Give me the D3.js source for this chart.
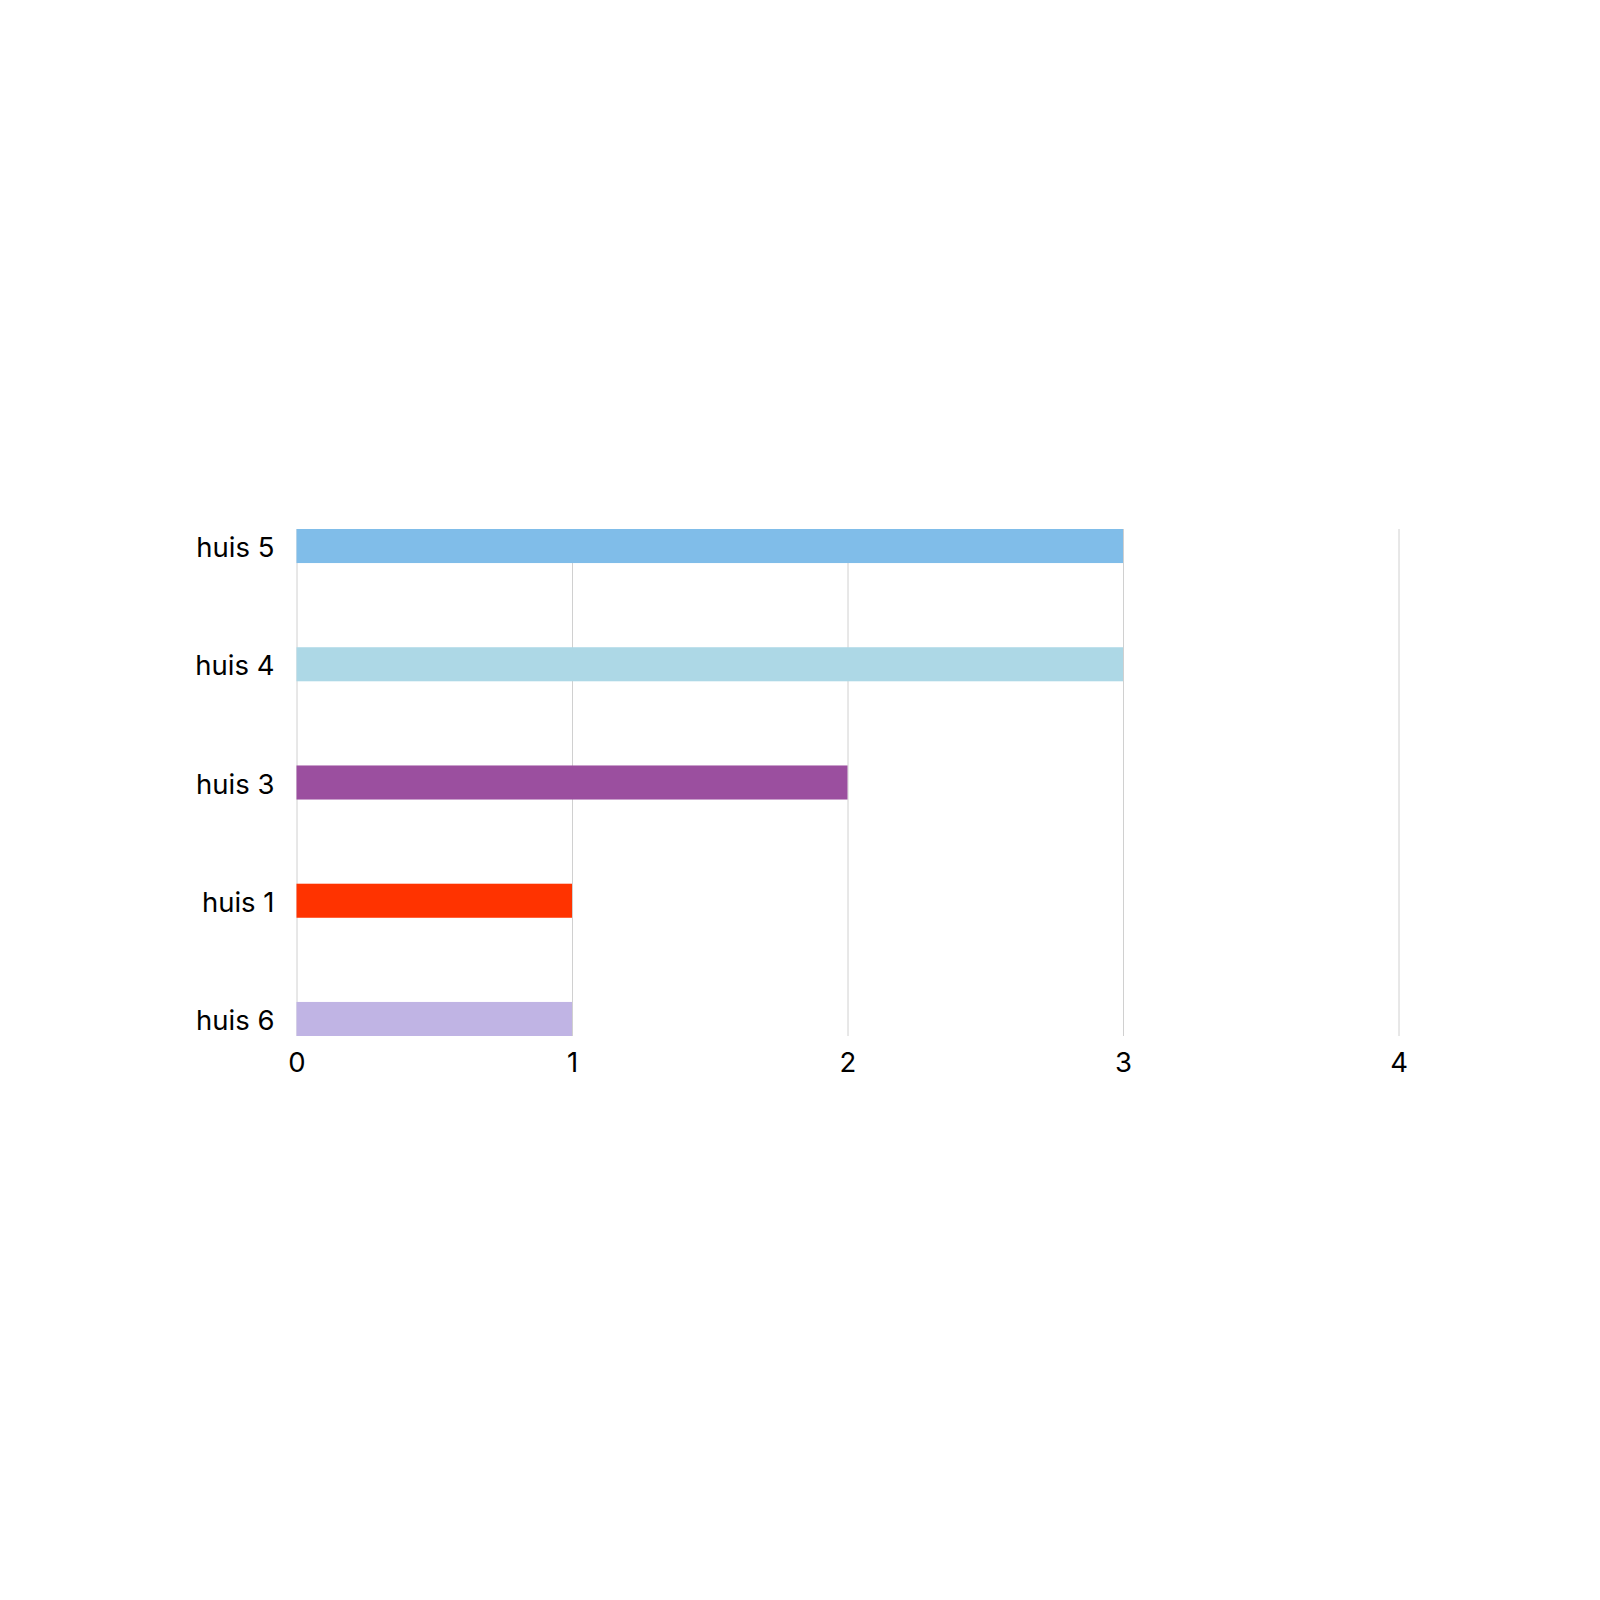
<!DOCTYPE html>
<html>
<head>
<meta charset="utf-8">
<script src="https://cdn.jsdelivr.net/npm/d3@7"></script>
<style>
  body { margin: 0; background: #fff; }
  text { font-family: Inter, "Noto Sans", sans-serif; }
</style>
</head>
<body>
<div class="chart"></div>
<script>
const houses = ['huis 5', 'huis 4', 'huis 3', 'huis 1', 'huis 6'];
const counts = [3, 3, 2, 1, 1];
const colors = ['#80bde9', '#add8e6', '#9b4f9f', '#ff3300', '#c0b4e4'];
const xTicks = [0, 1, 2, 3, 4];

const width = 1600;
const height = 1600;
const margin = {top: 529, left: 296.5, right: 201.5, bottom: 564};

const svg = d3.select('.chart')
    .append('svg')
    .attr('width', width)
    .attr('height', height);

const x = d3.scaleLinear()
    .domain([0, 4])
    .range([margin.left, width - margin.right]);

const y = d3.scaleBand()
    .domain(houses)
    .range([margin.top, height - margin.bottom])
    .paddingInner(0.712)
    .paddingOuter(0);

// grid lines + tick labels
const xAxis = svg.append('g')
    .attr('transform', 'translate(0,' + (height - margin.bottom) + ')')
    .call(d3.axisBottom(x)
        .tickValues(xTicks)
        .tickFormat(d3.format('d'))
        .tickSize(-(height - margin.top - margin.bottom))
        .tickPadding(16));
xAxis.select('.domain').remove();
xAxis.selectAll('line')
    .attr('stroke', '#d0d0d0');
xAxis.selectAll('text')
    .attr('font-size', 27.5)
    .attr('fill', '#000');

let bars = svg.selectAll('.bar')
    .data(houses)
    .enter()
    .append('rect')
    .attr('class', 'bar')
    .attr('x', x(0))
    .attr('y', function(d) { return y(d); })
    .attr('width', function(d, i) { return x(counts[i]) - x(0); })
    .attr('height', y.bandwidth())
    .attr('fill', function(d, i) { return colors[i]; });

const yAxis = svg.append('g')
    .attr('transform', 'translate(' + margin.left + ',0)')
    .call(d3.axisLeft(y).tickSize(0).tickPadding(22));
yAxis.select('.domain').remove();
yAxis.selectAll('text')
    .attr('font-size', 27.5)
    .attr('fill', '#000')
    .attr('dy', '0.4em');
</script>
</body>
</html>
